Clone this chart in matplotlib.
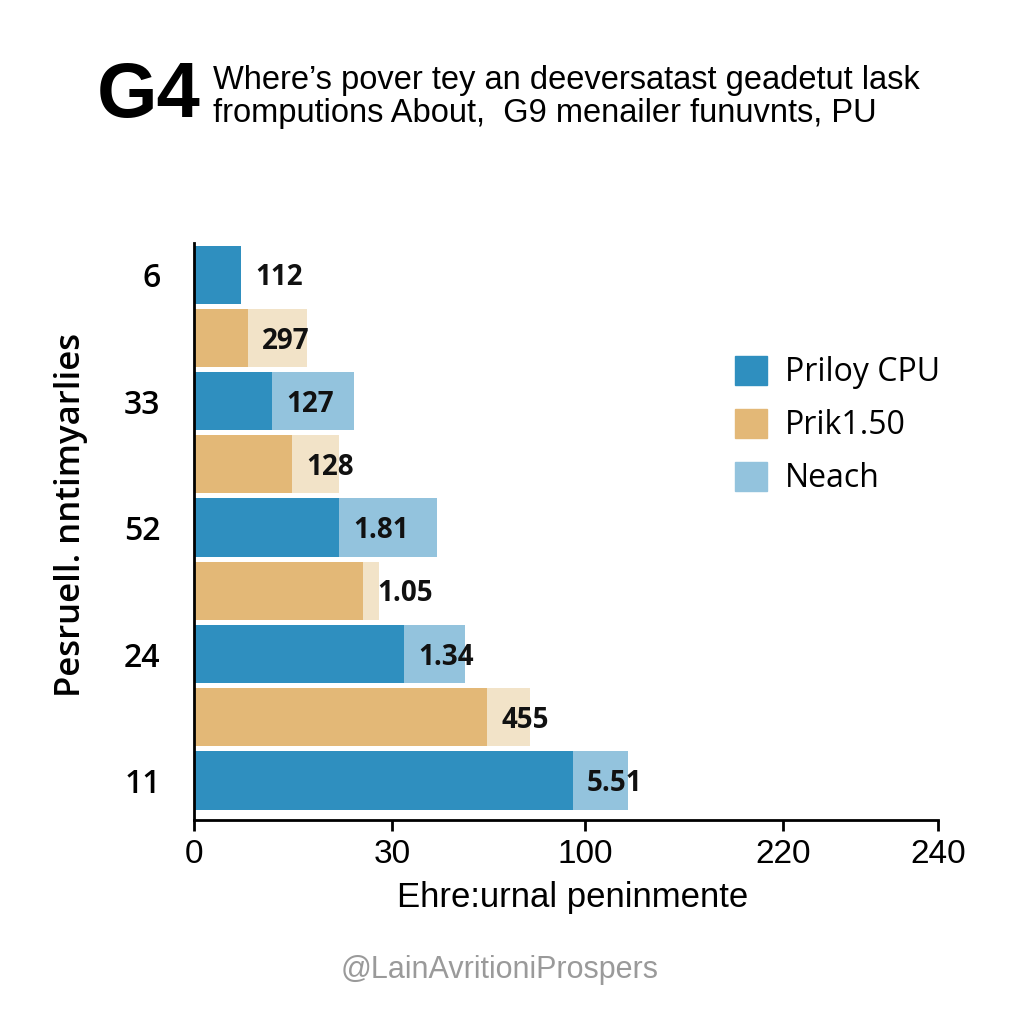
import numpy as np
import matplotlib.pyplot as plt
from matplotlib.patches import Patch

# data (x in axis units, 0..744 spans the axis)
row_kind = ["cpu", "prik", "cpu", "prik", "cpu", "prik", "cpu", "prik", "cpu"]
base_vals = [47, 54, 78, 98, 145, 169, 210, 293, 379]
total_vals = [47, 113, 160, 145, 243, 185, 271, 336, 434]
bar_labels = ["112", "297", "127", "128", "1.81", "1.05", "1.34", "455", "5.51"]
ytick_labels = ["6", "33", "52", "24", "11"]
xtick_pos = [0, 198, 391, 589, 744]
xtick_labels = ["0", "30", "100", "220", "240"]
legend_labels = ["Priloy CPU", "Prik1.50", "Neach"]

dark = {"cpu": "#2F8FBF", "prik": "#E3B877"}
light = {"cpu": "#93C3DD", "prik": "#F2E3C8"}

sans = ["Liberation Sans", "DejaVu Sans"]

fig = plt.figure(figsize=(10.24, 10.24), dpi=100)
fig.patch.set_facecolor("white")
ax = fig.add_axes([194/1024, 1-820/1024, 744/1024, 577/1024])

y = np.arange(len(base_vals))
base = np.array(base_vals)
total = np.array(total_vals)
ext = total - base
ax.barh(y, base, height=0.92, color=[dark[k] for k in row_kind], zorder=2)
ax.barh(y, ext, left=base, height=0.92, color=[light[k] for k in row_kind], zorder=2)

#value labels
for i in range(len(y)):
    ax.text(base[i] + 14, y[i] + 0.05, bar_labels[i], va="center", ha="left",
            fontsize=20, fontweight="bold", family="Open Sans", color="#111111", zorder=3)

ax.set_xlim(0, 744)
ax.set_ylim(8.625, -0.5)
ax.set_xticks(xtick_pos)
ax.set_xticklabels(xtick_labels, family=sans, fontsize=24)
ax.set_yticks(y[::2])
ax.set_yticklabels(ytick_labels, family="Open Sans", fontsize=23, fontweight="semibold")
ax.tick_params(axis="y", length=0, pad=24)
ax.tick_params(axis="x", length=8, width=2, pad=6)
for s in ["top", "right"]:
    ax.spines[s].set_visible(False)
for s in ["left", "bottom"]:
    ax.spines[s].set_linewidth(2)

ax.set_ylabel("Pesruell. nntimyarlies", family="Open Sans", fontsize=25,
              fontweight="semibold")
ax.yaxis.set_label_coords(-0.1425, 0.529)

#legend
handles = [Patch(color=dark["cpu"]), Patch(color=dark["prik"]), Patch(color=light["cpu"])]
fig.legend(handles, legend_labels, loc="upper left", bbox_to_anchor=(735/1024, 1-356/1024),
           frameon=False, prop={"family": "Open Sans", "size": 23},
           handlelength=1.0, handleheight=1.0, handletextpad=0.55,
           labelspacing=0.62, borderaxespad=0, borderpad=0)

#titles
fig.text(97/1024, 1-96/1024, "G4", family=sans, fontsize=56, fontweight="bold",
         va="center", ha="left")
fig.text(213/1024, 1-97/1024, "Where\u2019s pover tey an deeversatast geadetut lask\nfromputions About,  G9 menailer funuvnts, PU",
         family=sans, fontsize=23.5, va="center", ha="left", linespacing=1.1)

fig.text(573/1024, 1-898/1024, "Ehre:urnal peninmente", family=sans, fontsize=25,
         va="center", ha="center")
fig.text(500/1024, 1-970/1024, "@LainAvritioniProspers", family=sans, fontsize=22,
         color="#9a9a9a", va="center", ha="center")

fig.savefig("out.png", dpi=100)
